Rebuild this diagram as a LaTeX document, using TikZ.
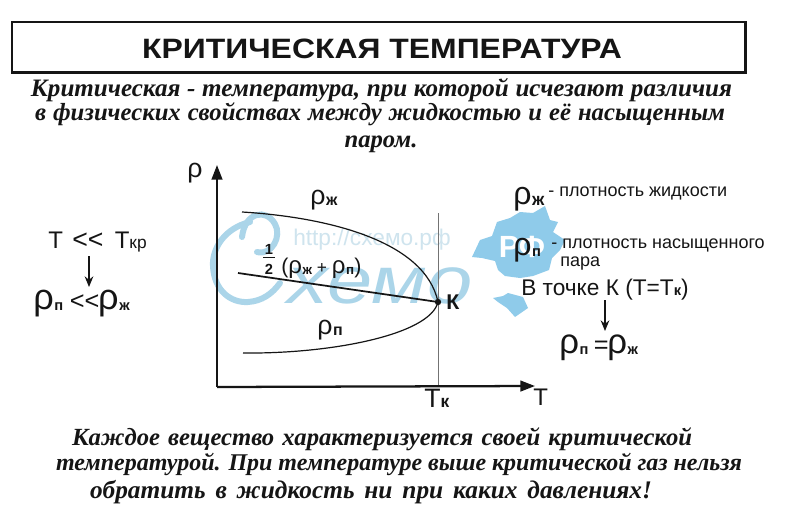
\documentclass[tikz,border=0pt]{standalone}
\usepackage{fontspec}
\setmainfont{Liberation Sans}
\newfontfamily\serifit{Liberation Serif}
\usetikzlibrary{arrows.meta}
\newcommand{\fs}[1]{\fontsize{#1}{#1}\selectfont}
\newcommand{\rr}[3]{{\fs{#1}\char"03C1}{\fs{#2}\kern0.5pt\raisebox{-1pt}{\bfseries #3}}}
\newcommand{\fitl}[3]{{\fs{#2}\hbox to #1pt{\spaceskip=.25em plus 5em minus .2em\relax #3}}}
\newcommand{\wide}[2]{\scalebox{#1}[1]{#2}}
\definecolor{wm}{HTML}{ABD5E9}
\definecolor{wmurl}{HTML}{CFE4EE}
\definecolor{blob}{HTML}{8FCBEA}
\definecolor{ink}{HTML}{151515}
\tikzset{
  x=0.75pt,y=-0.75pt,
  lab/.style={anchor=base west,inner sep=0pt,text=ink},
  itl/.style={anchor=base,inner sep=0pt,text=ink,font=\serifit\fs{18}\bfseries\itshape},
  axisline/.style={draw=ink,line width=1.7pt,-{Triangle[length=11pt,width=8pt]}},
  curve/.style={draw=ink,line width=0.9pt},
  thinln/.style={draw=black!55,line width=0.6pt},
  arr/.style={draw=ink,line width=1pt,-{Stealth[length=8pt,width=6.5pt]}},
  wmstroke/.style={draw=wm,line width=4.5pt,line cap=round}
}
\begin{document}
\begin{tikzpicture}
\useasboundingbox (0,0) rectangle (800,529);
\fill[white] (0,0) rectangle (800,529);
% watermark
\draw[wmstroke] (257,252) .. controls (272,256) and (282,236) .. (275,224) .. controls (266,208) and (245,212) .. (242,237);
\draw[wmstroke] (250,222) .. controls (225,228) and (212,248) .. (213,266) .. controls (214,290) and (230,303) .. (248,302) .. controls (262,301) and (272,294) .. (280,283);
\node[anchor=base west,inner sep=0pt,text=wm] (wmtext) at (287,303) {\wide{1.22}{\fs{50}\itshape хемо}};
\node[anchor=base west,inner sep=0pt,text=wmurl] (wmurl) at (293,245) {\fs{17}http://схемо.рф};
\fill[blob] (472,257) -- (480,240) -- (492,236) -- (497,222) -- (510,218) -- (520,212) -- (533,213) -- (545,206) -- (550,220) -- (558,222) -- (553,232) -- (565,240) -- (560,250) -- (552,258) -- (549,270) -- (533,276) -- (520,278) -- (505,276) -- (498,270) -- (495,261) -- (482,258) -- cycle;
\fill[blob] (493,298) -- (503,296) -- (508,293) -- (523,297) -- (528,308) -- (515,317) -- (507,308) -- (498,302) -- cycle;
\node[anchor=base,inner sep=0pt,text=white] (wmrf) at (522,257) {\fs{23}\bfseries РФ};
% title
\node[draw=ink,line width=1.1pt,minimum width=549.75pt,minimum height=37.5pt,inner sep=0pt] (box) at (378.5,47) {};
\draw[ink,line width=1.6pt] (box.south west) -- (box.south east) -- (box.north east);
\node[lab,anchor=base] (title) at (382,58) {\wide{1.14}{\fs{21}\bfseries КРИТИЧЕСКАЯ ТЕМПЕРАТУРА}};
\node[itl] (d1) at (381.5,96) {\fitl{525.75}{18.8}{Критическая - температура, при которой исчезают различия}};
\node[itl] (d2) at (380,120) {\fitl{517.5}{18.5}{в физических свойствах между жидкостью и её насыщенным}};
\node[itl] (d3) at (381,147) {\fs{18.5}паром.};
% axes
\coordinate (O) at (217,387);
\coordinate (Ytip) at (217,165);
\coordinate (Xtip) at (535,386);
\coordinate (K) at (438,302);
\coordinate (Ktop) at (438,213);
\coordinate (Kbot) at (438,387);
\coordinate (U) at (242,212);
\coordinate (L) at (243,353);
\coordinate (M) at (238,273);
\draw[thinln] (Ktop) -- (Kbot);
\draw[axisline] (O) -- (Ytip);
\draw[axisline] (O) -- (Xtip);
\draw[curve] (U) .. controls (325,217) and (425,240) .. (K);
\draw[curve] (L) .. controls (330,354) and (430,335) .. (K);
\draw[draw=ink,line width=1.3pt] (M) -- (K);
\fill[ink] (K) circle (2.4pt);
\node[lab] (rho) at (187,177) {\fs{20}\char"03C1};
\node[lab] (rz) at (310,204) {\rr{20}{12}{ж}};
\node[lab] (rp) at (317,334) {\rr{20}{12}{п}};
\node[lab,anchor=base] (half1) at (269,254) {\fs{11}\bfseries 1};
\coordinate (hl) at (263,257);
\coordinate (hr) at (275,257);
\draw[ink,line width=0.7pt] (hl) -- (hr);
\node[lab,anchor=base] (half2) at (269,274) {\fs{11}\bfseries 2};
\node[lab] (mid) at (281,273) {\fs{16}(\rr{18}{10}{ж}\fs{13} + \rr{18}{10}{п}\fs{16})};
\node[lab] (kk) at (446,309) {\fs{16}\bfseries К};
\node[lab] (tk) at (424,407) {\fs{20}Т\fs{13}\bfseries к};
\node[lab] (tt) at (533,405) {\fs{18}Т};
% left
\node[lab] (lt) at (48,248) {\fs{18}Т \kern2pt\fs{20}<{}< \kern3pt\fs{18}Т\fs{13}кр};
\node[lab] (lr) at (33,309) {\rr{27}{11}{п}\fs{19}\kern5pt<{}<\kern-1pt\rr{27}{11}{ж}};
\coordinate (la) at (89,256);
\coordinate (lb) at (89,287);
\draw[arr] (la) -- (lb);
% right
\node[lab] (r1) at (513,204) {\rr{24}{13}{ж}};
\node[lab] (r1t) at (548,196) {\fs{13.5}- плотность жидкости};
\node[lab] (r2) at (513,255) {\rr{24}{11}{п}};
\node[lab] (r2t) at (551,248) {\fs{13.5}- плотность насыщенного};
\node[lab] (r3t) at (560,266) {\fs{13.5}пара};
\node[lab] (r4) at (521,295) {\fs{17}В точке К (Т=Т\fs{11}\bfseries к\fs{17}\mdseries)};
\coordinate (ra) at (605,300);
\coordinate (rb) at (605,331);
\draw[arr] (ra) -- (rb);
\node[lab] (r5) at (559,353) {\rr{26}{11}{п}\fs{19}\kern4pt=\kern-1pt\rr{26}{11}{ж}};
% bottom
\node[itl] (b1) at (382,445) {\fitl{465}{18.5}{Каждое вещество характеризуется своей критической}};
\node[itl] (b2) at (399,470) {\fitl{514.5}{18}{температурой. При температуре выше критической газ нельзя}};
\node[itl] (b3) at (371,498) {\fitl{421.5}{19}{обратить в жидкость ни при каких давлениях!}};
\end{tikzpicture}
\end{document}
